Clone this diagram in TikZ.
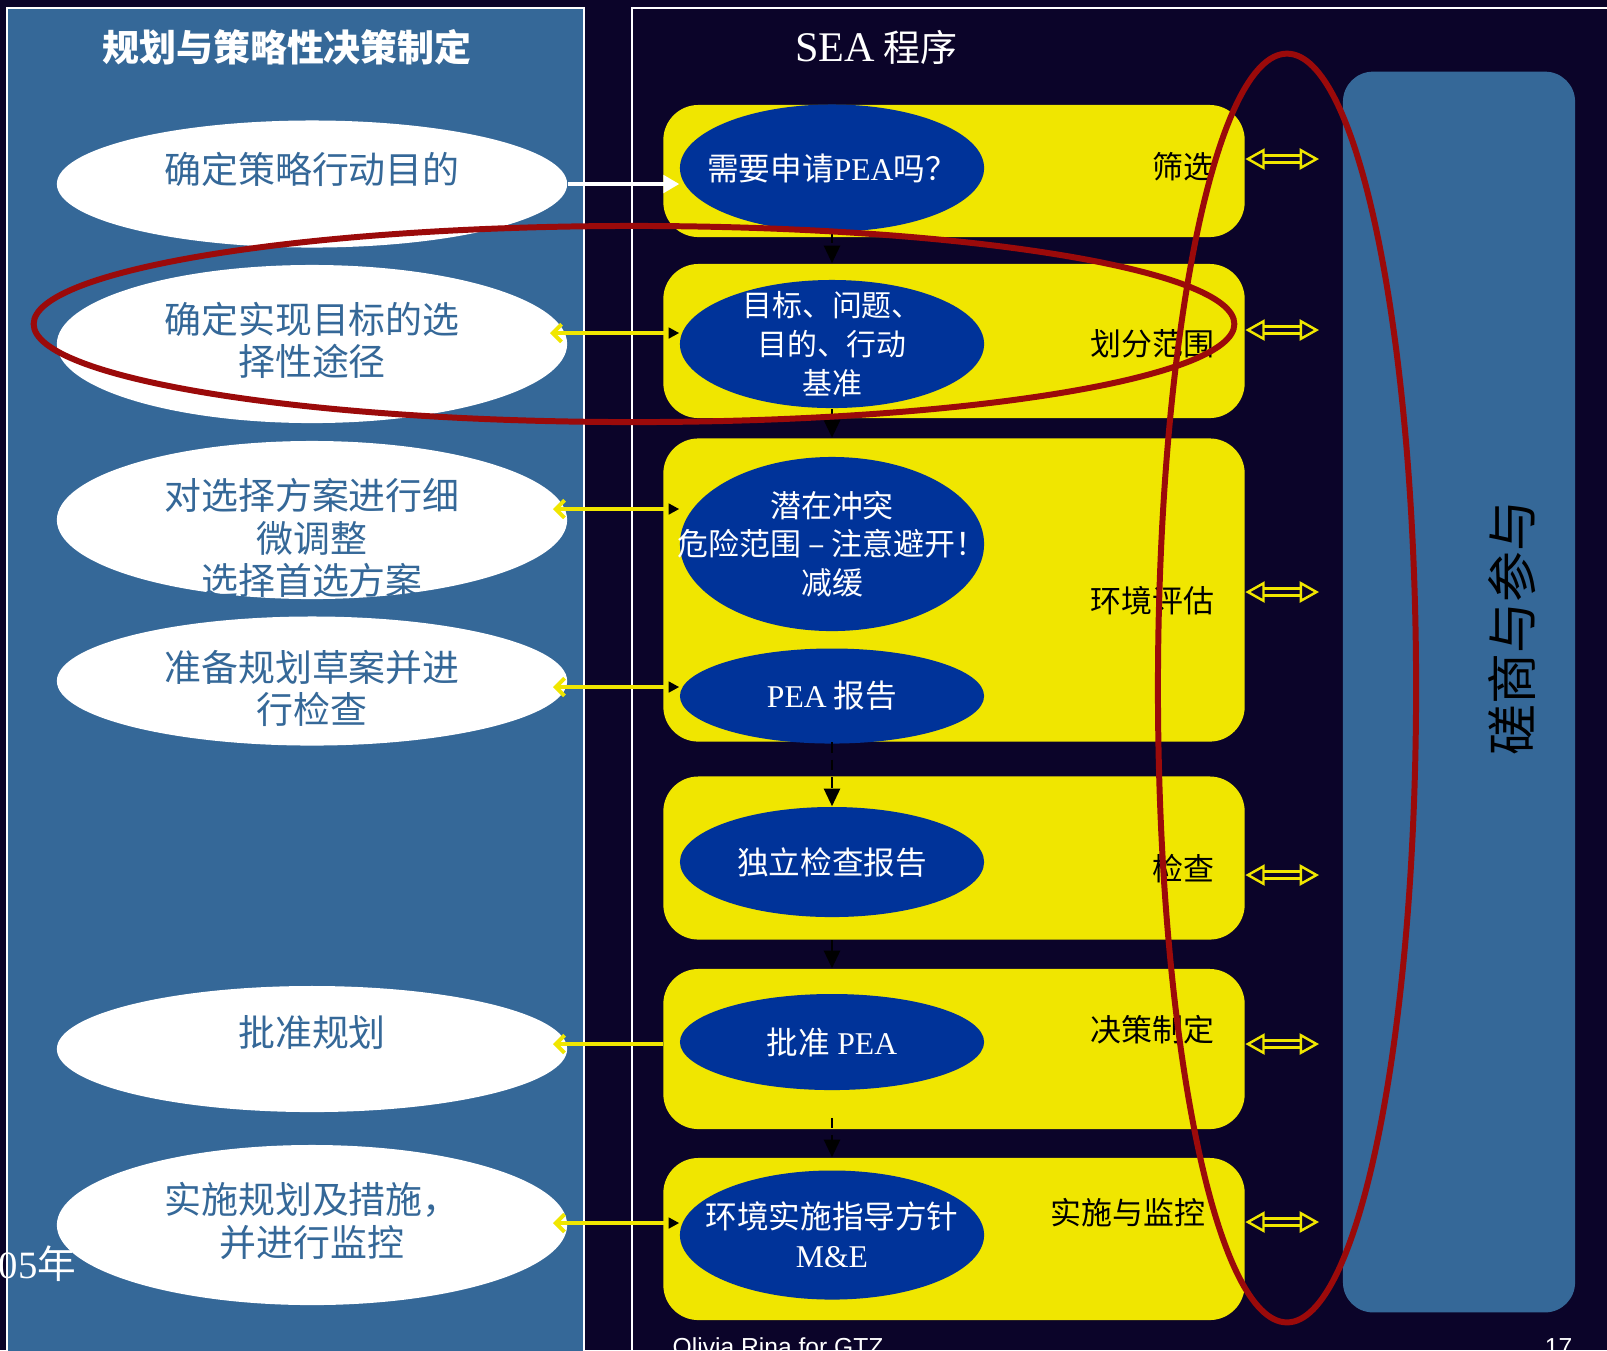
\documentclass[tikz,border=0pt]{standalone}
\usepackage{fontspec}
\setmainfont{Noto Sans CJK SC}
\newfontfamily\latserif{Liberation Serif}
\newfontfamily\latsans{Liberation Sans}
\usepackage{tikz}
\usetikzlibrary{shapes.geometric,arrows.meta}
\definecolor{navybg}{RGB}{11,4,41}
\definecolor{panelblue}{RGB}{53,104,152}
\definecolor{boxyellow}{RGB}{240,230,0}
\definecolor{ovalblue}{RGB}{0,51,153}
\definecolor{ringred}{RGB}{155,10,10}

\begin{document}
\begin{tikzpicture}[x=0.01cm,y=-0.01cm,
  wellipse/.style={ellipse,fill=white,inner sep=0pt,minimum width=5.1cm},
  wtext/.style={text=panelblue,align=center,font=\fontsize{10.5}{12}\selectfont},
  bellipse/.style={ellipse,fill=ovalblue,inner sep=0pt,minimum width=3.04cm},
  btext/.style={text=white,align=center,font=\fontsize{9}{11}\selectfont},
  ybox/.style={rectangle,rounded corners=0.35cm,fill=boxyellow,inner sep=0pt,minimum width=5.81cm},
  stage/.style={anchor=east,inner sep=0pt,font=\fontsize{8.8}{10}\selectfont},
  twoway/.style={draw=boxyellow,double=navybg,double distance=1.2pt,line width=0.7pt,
    {Triangle[open,length=5.5pt,width=6pt]}-{Triangle[open,length=5.5pt,width=6pt]}},
  feed/.style={draw=boxyellow,line width=1.1pt,
    {Straight Barb[length=2.5pt,width=5pt]}-{Triangle[color=black,length=3pt,width=3pt]}},
  flow/.style={black,line width=0.8pt,densely dashed,-{Triangle[length=5pt,width=4.5pt]}},
  ring/.style={draw=ringred,line width=1.7pt}]
  \useasboundingbox (0,0) rectangle (1607,1350);
  \fill[navybg] (0,0) rectangle (1607,1350);
  \begin{scope}
  \clip (0,0) rectangle (1607,1350);
  \draw[white,fill=panelblue,line width=0.4pt] (7,8) rectangle (584,1380);
  \draw[white,line width=0.4pt] (632,8) rectangle (1640,1380);

  \node[text=white,font=\bfseries\fontsize{10.5}{12}\selectfont] (T-1) at (287,47) {规划与策略性决策制定};
  \node[text=white,font=\fontsize{10.5}{12}\selectfont] (T-2) at (876,47) {{\latserif\fontsize{12}{14}\selectfont SEA} 程序};

  \node[wellipse,minimum height=1.27cm,label={[wtext,yshift=0.15cm]center:确定策略行动目的}] (W-1) at (312,184) {};
  \node[wellipse,minimum height=1.58cm,label={[wtext,yshift=0.04cm]center:确定实现目标的选\\择性途径}] (W-2) at (312,344) {};
  \node[wellipse,minimum height=1.58cm,label={[wtext,yshift=-0.18cm]center:对选择方案进行细\\微调整\\选择首选方案}] (W-3) at (312,520) {};
  \node[wellipse,minimum height=1.29cm,label={[wtext,yshift=-0.07cm]center:准备规划草案并进\\行检查}] (W-4) at (312,681) {};
  \node[wellipse,minimum height=1.26cm,label={[wtext,yshift=0.17cm]center:批准规划}] (W-5) at (312,1049) {};
  \node[wellipse,minimum height=1.60cm,label={[wtext,yshift=0.04cm]center:实施规划及措施，\\并进行监控}] (W-6) at (312,1225) {};

  \node[ybox,minimum height=1.32cm] (Y-1) at (954,171) {};
  \node[ybox,minimum height=1.54cm] (Y-2) at (954,341) {};
  \node[ybox,minimum height=3.03cm] (Y-3) at (954,590) {};
  \node[ybox,minimum height=1.63cm] (Y-4) at (954,858) {};
  \node[ybox,minimum height=1.60cm] (Y-5) at (954,1049) {};
  \node[ybox,minimum height=1.62cm] (Y-6) at (954,1239) {};

  \node[bellipse,minimum height=1.27cm,label={[btext]center:需要申请{\latserif PEA}吗？}] (B-1) at (832,168) {};
  \node[bellipse,minimum height=1.28cm,label={[btext,font=\fontsize{8.5}{11}\selectfont]center:目标、问题、\\目的、行动\\基准}] (B-2) at (832,344) {};
  \node[bellipse,minimum height=1.74cm,label={[btext,font=\fontsize{8.8}{11}\selectfont]center:潜在冲突\\危险范围 – 注意避开！\\减缓}] (B-3) at (832,544) {};
  \node[bellipse,minimum height=0.95cm,label={[btext]center:{\latserif PEA} 报告}] (B-4) at (832,696) {};
  \node[bellipse,minimum height=1.10cm,label={[btext]center:独立检查报告}] (B-5) at (832,862) {};
  \node[bellipse,minimum height=0.96cm,label={[btext]center:批准 {\latserif PEA}}] (B-6) at (832,1042) {};
  \node[bellipse,minimum height=1.29cm,label={[btext]center:环境实施指导方针\\{\latserif M\&E}}] (B-7) at (832,1235) {};

  \node[stage] (S-1) at (1215,167) {筛选};
  \node[stage] (S-2) at (1215,344) {划分范围};
  \node[stage] (S-3) at (1215,601) {环境评估};
  \node[stage] (S-4) at (1215,869) {检查};
  \node[stage] (S-5) at (1215,1030) {决策制定};
  \node[stage] (S-6) at (1206,1213) {实施与监控};

  \node[fill=panelblue,rounded corners=0.3cm,inner sep=0pt,minimum width=2.32cm,minimum height=12.4cm] (P) at (1459,692) {};
  \node[rotate=90,font=\fontsize{14.5}{16}\selectfont] (P-text) at (1512,628) {磋商与参与};

  \coordinate (D-1) at (1319,159);
  \coordinate (D-2) at (1319,330);
  \coordinate (D-3) at (1319,592);
  \coordinate (D-4) at (1319,875);
  \coordinate (D-5) at (1319,1044);
  \coordinate (D-6) at (1319,1222);
  \draw[twoway] (D-1 -| Y-1.east) -- (D-1);
  \draw[twoway] (D-2 -| Y-2.east) -- (D-2);
  \draw[twoway] (D-3 -| Y-3.east) -- (D-3);
  \draw[twoway] (D-4 -| Y-4.east) -- (D-4);
  \draw[twoway] (D-5 -| Y-5.east) -- (D-5);
  \draw[twoway] (D-6 -| Y-6.east) -- (D-6);

  \draw[white,line width=0.9pt,-{Triangle[length=4.5pt,width=5pt]}] (W-1.east) -- (W-1.east -| B-1.west);
  \coordinate (F-2) at (550,333);
  \coordinate (F-3) at (553,509);
  \coordinate (F-4) at (553,687);
  \coordinate (F-5) at (553,1044);
  \coordinate (F-6) at (553,1223);
  \draw[feed] (F-2) -- (F-2 -| B-2.west);
  \draw[feed] (F-3) -- (F-3 -| B-3.west);
  \draw[feed] (F-4) -- (F-4 -| B-4.west);
  \draw[draw=boxyellow,line width=1.1pt,{Straight Barb[length=2.5pt,width=5pt]}-] (F-5) -- (F-5 -| Y-5.west);
  \draw[feed] (F-6) -- (F-6 -| B-7.west);

  \draw[flow] (B-1.south) -- (B-1.south |- Y-2.north);
  \draw[flow] (B-2.south) -- (B-2.south |- Y-3.north);
  \draw[flow] (B-4.south |- Y-3.south) -- (B-5.north);
  \draw[flow] (B-5.south |- Y-4.south) -- (B-5.south |- Y-5.north);
  \draw[flow] ([yshift=0.12cm]B-6.south |- Y-5.south) -- (B-6.south |- Y-6.north);

  \draw[ring] (634,324) ellipse [x radius=6cm,y radius=0.98cm];
  \draw[ring] (1287,688) ellipse [x radius=1.29cm,y radius=6.34cm];

  \node[anchor=base west,inner sep=0pt,text=white,font=\latsans\fontsize{7}{8}\selectfont] (N-1) at (672,1355) {Olivia Rina for GTZ};
  \node[anchor=base east,inner sep=0pt,text=white,font=\latsans\fontsize{7}{8}\selectfont] (N-2) at (1573,1355) {17};
  \node[anchor=east,inner sep=0pt,text=white,font=\fontsize{11}{12}\selectfont] (N-3) at (77,1264) {{\latserif 2005}年};
  \end{scope}
\end{tikzpicture}
\end{document}
